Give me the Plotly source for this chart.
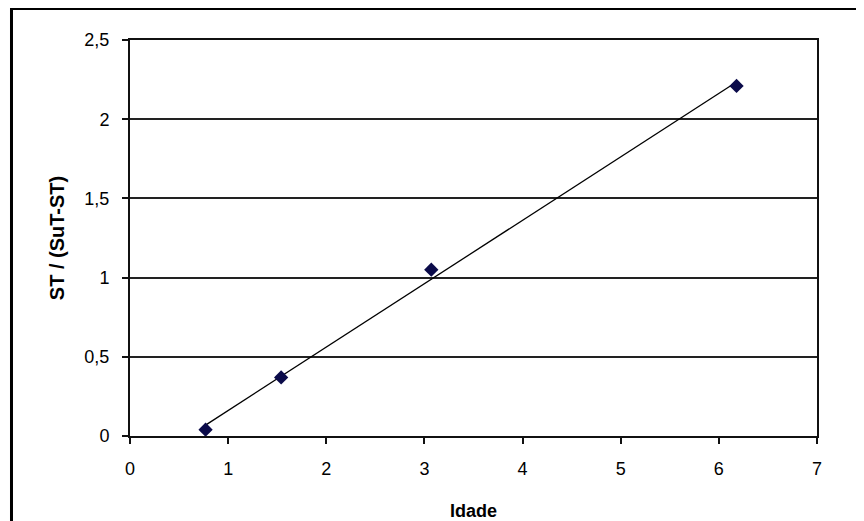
import numpy as np
import plotly.graph_objects as go

idade = [0.77, 1.54, 3.07, 6.18]
st_ratio = [0.04, 0.37, 1.05, 2.21]
x_ticks = [0, 1, 2, 3, 4, 5, 6, 7]
y_ticks = [0, 0.5, 1, 1.5, 2, 2.5]
y_tick_labels = ["0", "0,5", "1", "1,5", "2", "2,5"]

slope, intercept = np.polyfit(idade, st_ratio, 1)
trend_x = [min(idade), max(idade)]
trend_y = [slope * v + intercept for v in trend_x]

fig = go.Figure()
fig.add_trace(go.Scatter(x=trend_x, y=trend_y, mode="lines",
                         line=dict(color="black", width=1.3), hoverinfo="skip",
                         showlegend=False))
fig.add_trace(go.Scatter(x=idade, y=st_ratio, mode="markers",
                         marker=dict(symbol="diamond", size=11, color="#0b0b4a"),
                         showlegend=False))

fig.update_layout(
    width=856, height=513,
    margin=dict(l=122, r=47, t=32, b=85),
    paper_bgcolor="white", plot_bgcolor="white",
    font=dict(family="Liberation Sans, Arial, sans-serif", size=18, color="black"),
    separators=", ",
    xaxis=dict(range=[0, 7], tickvals=x_ticks, showgrid=False, zeroline=False,
               showline=True, linecolor="#111", linewidth=2, mirror=True,
               ticks="outside", ticklen=6, tickcolor="#111", tickwidth=1.5,
               ticklabelstandoff=9, automargin=False,
               title=dict(text="<b>Idade</b>", standoff=30, font=dict(size=18))),
    yaxis=dict(range=[0, 2.5], tickvals=y_ticks, ticktext=y_tick_labels,
               showgrid=True, gridcolor="#222", gridwidth=1.6, zeroline=False,
               showline=True, linecolor="#111", linewidth=2, mirror=True,
               ticks="outside", ticklen=6, tickcolor="#111", tickwidth=1.5,
               ticklabelstandoff=9, automargin=False,
               title=dict(text="<b>ST / (SuT-ST)</b>", standoff=14, font=dict(size=20))),
    shapes=[dict(type="rect", xref="paper", yref="paper",
                 x0=-0.1725, x1=1.09, y0=-0.25, y1=1.0795,
                 line=dict(color="black", width=3), layer="below")],
)

fig.write_html("out.html")
